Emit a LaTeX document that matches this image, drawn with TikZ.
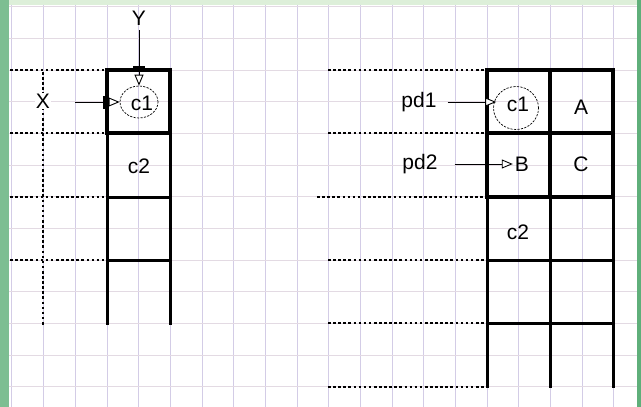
\documentclass[tikz,border=0pt]{standalone}
\usepackage{fontspec}
\setmainfont{Liberation Sans}
\usetikzlibrary{arrows.meta,shapes.geometric}
\definecolor{gridv}{HTML}{D3CCE6}
\definecolor{gridh}{HTML}{E3DAE3}
\definecolor{frameL}{HTML}{7DBE92}
\definecolor{frameT}{HTML}{DDEFD9}
\definecolor{frameR}{HTML}{5FAF7A}
\tikzset{
  lbl/.style={font=\fontsize{21}{23}\selectfont, inner sep=2pt},
  thickbox/.style={line width=4.2pt, line cap=rect},
  cellline/.style={line width=3pt},
  dotline/.style={line width=2.8pt, dash pattern=on 2.6pt off 2.5pt},
  arr/.style={line width=0.9pt, -{Triangle[open, length=11pt, width=9pt, fill=white]}},
  ring/.style={ellipse, draw, line width=0.7pt, dash pattern=on 2.2pt off 1.3pt, inner sep=0pt},
  port/.style={fill=black, draw=none}
}
\begin{document}
\begin{tikzpicture}[x=1pt,y=-1pt]
\useasboundingbox (0,0) rectangle (641,407);
\fill[white] (0,0) rectangle (641,407);
% grid
\foreach \k in {-3,...,16} {
  \draw[gridv, line width=1pt] ({107+31.667*\k},5) -- ({107+31.667*\k},407);
}
\foreach \k in {-2,...,10} {
  \draw[gridh, line width=1pt] (9,{70+31.667*\k}) -- (637,{70+31.667*\k});
}
% frame
\fill[frameT] (0,0) rectangle (641,5);
\fill[frameL] (0,0) rectangle (9,407);
\fill[frameR] (637,0) rectangle (641,407);

% ---------- left structure ----------
\foreach \yy in {70,133,197,260} {
  \draw[dotline] (10,\yy) -- (105,\yy);
}
\draw[dotline] (43,72) -- (43,325);
\draw[cellline] (107,133) -- (107,325);
\draw[cellline] (170,133) -- (170,325);
\draw[cellline] (107,197) -- (170,197);
\draw[cellline] (107,260) -- (170,260);
\draw[thickbox] (107,70) rectangle (170,133);

\node[lbl, fill=white, inner sep=1pt] (X) at (43,101) {X};
\node[lbl] (Y) at (139,18) {Y};
\node[lbl] (c2L) at (139,166) {c2};
\node[ring, minimum width=38pt, minimum height=32pt] (c1L) at (139,102) {};
\node[lbl] (c1Lt) at (142,103) {c1};
\coordinate (xs) at (75,102);
\coordinate (ys) at (139,30);
\draw[arr] (xs) -- (xs -| c1L.west);
\draw[arr] (ys) -- (ys |- c1L.north);
\fill[port] (103,96) rectangle (109,109);
\fill[port] (133,66) rectangle (145,72);

% ---------- right structure ----------
\draw[dotline] (328,70) -- (485,70);
\draw[dotline] (328,133) -- (485,133);
\draw[dotline] (317,197) -- (485,197);
\draw[dotline] (328,260) -- (485,260);
\draw[dotline] (328,323) -- (485,323);
\draw[dotline] (328,387) -- (485,387);
\foreach \xx in {487,550,613} {
  \draw[cellline] (\xx,197) -- (\xx,388);
}
\draw[cellline] (487,260) -- (613,260);
\draw[cellline] (487,323) -- (613,323);
\draw[thickbox] (487,70) rectangle (613,197);
\draw[thickbox] (550,70) -- (550,197);
\draw[thickbox] (487,133) -- (613,133);

\node[lbl] (pd1) at (419,102) {pd1};
\node[lbl] (pd2) at (420,164) {pd2};
\node[ring, minimum width=45pt, minimum height=43pt] (c1R) at (516,108) {};
\node[lbl] (c1Rt) at (518,104) {c1};
\node[lbl] (A) at (581,107) {A};
\node[lbl] (B) at (522,164) {B};
\node[lbl] (C) at (581,164) {C};
\node[lbl] (c2R) at (518,232) {c2};
\draw[arr, shorten <=9pt] (pd1.east) -- ([xshift=3pt]pd1.east -| c1R.west);
\draw[arr, shorten <=15pt] (pd2.east) -- (B.west);
\end{tikzpicture}
\end{document}
